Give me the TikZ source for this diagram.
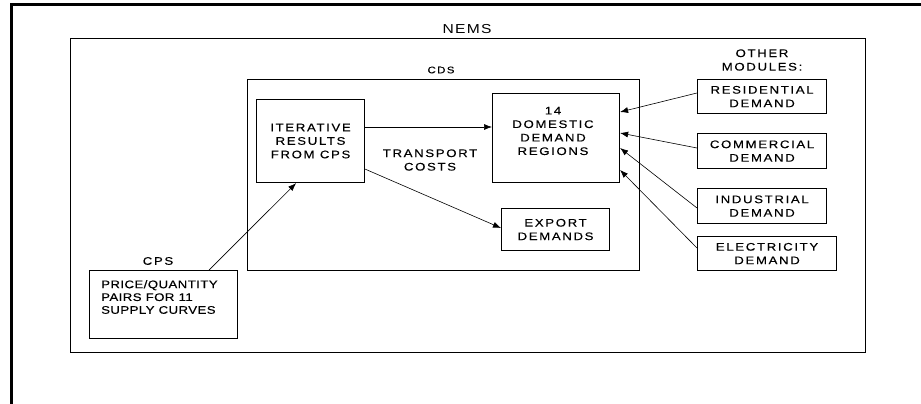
\documentclass[tikz,border=0pt]{standalone}
\usepackage{fontspec}
\setmainfont{Liberation Sans}
\newfontfamily\lblfont[LetterSpace=15,FakeStretch=1.2,FakeBold=0.3]{Liberation Sans}
\newfontfamily\cpsfont[LetterSpace=4,FakeStretch=1.2,FakeBold=0.3]{Liberation Sans}
\newfontfamily\nemsfont[LetterSpace=10,FakeStretch=1.2]{Liberation Sans}
\usetikzlibrary{arrows.meta}
\begin{document}
\begin{tikzpicture}[x=1pt,y=-1pt,
  txt/.style={font=\lblfont\fontsize{11}{13.5}\selectfont},
  box/.style={draw, line width=1.1pt, inner sep=0pt, anchor=north west, align=center, txt},
  frame/.style={draw, line width=1pt, inner sep=0pt, anchor=north west},
  lbl/.style={inner sep=0pt, align=center, txt},
  arr/.style={-{Latex[length=8pt,width=6pt]}, line width=0.6pt}]
\useasboundingbox (0,0) rectangle (921,404);
\draw[line width=3.5pt] (11.5,404) -- (11.5,4.5) -- (921,4.5);
% containers
\node[frame, minimum width=795, minimum height=314] (nems) at (70,38) {};
\node[lbl, font=\nemsfont\fontsize{13}{15}\selectfont] (nemsl) at (467,29.5) {NEMS};
\node[frame, line width=1.1pt, minimum width=392, minimum height=191] (cds) at (247,79) {};
\node[lbl, font=\lblfont\fontsize{9.5}{11}\selectfont] (cdsl) at (441,70) {CDS};
% boxes
\node[box, minimum width=108, minimum height=83] (iter) at (256,99) {ITERATIVE\\RESULTS\\FROM CPS};
\node[box, minimum width=127, minimum height=89] (dom) at (492,93) {};
\node[lbl] (doml) at (553,131) {14\\DOMESTIC\\DEMAND\\REGIONS};
\node[box, minimum width=108, minimum height=42] (exp) at (501,208) {EXPORT\\DEMANDS};
\node[lbl] (trans) at (430,160) {TRANSPORT\\COSTS};
\node[lbl] (other) at (762,60) {OTHER\\MODULES:};
\node[box, minimum width=129, minimum height=34] (res) at (697,79) {RESIDENTIAL\\DEMAND};
\node[box, minimum width=129, minimum height=35] (com) at (697,133) {COMMERCIAL\\DEMAND};
\node[box, minimum width=129, minimum height=35] (ind) at (697,188) {INDUSTRIAL\\DEMAND};
\node[box, minimum width=139, minimum height=34] (ele) at (697,236) {ELECTRICITY\\DEMAND};
\node[box, minimum width=148, minimum height=68] (cps) at (89,270) {};
\node[lbl, anchor=north west, align=left, font=\cpsfont\fontsize{11}{12.8}\selectfont] (cpst) at (101,280) {PRICE/QUANTITY\\PAIRS FOR 11\\SUPPLY CURVES};
\node[lbl] (cpsl) at (158,261) {CPS};
% connectors
\draw[arr] ([yshift=-28pt]iter.north east) -- ([yshift=-34pt]dom.north west);
\draw[arr] ([yshift=14pt]iter.south east) -- ([yshift=-20pt]exp.north west);
\draw[arr] ([xshift=-29pt]cps.north east) -- ([xshift=-69pt]iter.south east);
\draw[arr] ([yshift=-14pt]res.north west) -- ([yshift=-19pt]dom.north east);
\draw[arr] ([yshift=-15pt]com.north west) -- ([yshift=-40pt]dom.north east);
\draw[arr] ([yshift=-20pt]ind.north west) -- ([yshift=-55pt]dom.north east);
\draw[arr] ([yshift=-12pt]ele.north west) -- ([yshift=-77pt]dom.north east);
\end{tikzpicture}
\end{document}
